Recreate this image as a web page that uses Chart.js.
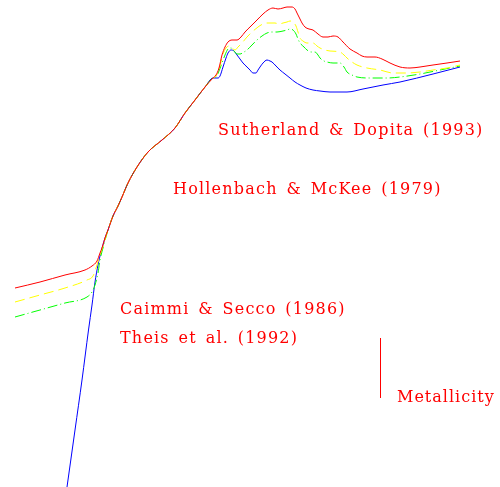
<!DOCTYPE html>
<html>
<head>
<meta charset="utf-8">
<script src="https://cdn.jsdelivr.net/npm/chart.js@4.4.1/dist/chart.umd.min.js"></script>
<style>
html,body{margin:0;padding:0;background:#fff;}
#wrap{width:500px;height:487px;}
</style>
</head>
<body>
<div id="wrap"><canvas id="c" width="500" height="487"></canvas></div>
<script>
// Shared part of all curves (log T, log Lambda in arbitrary offset units)
const commonT = [2.10,2.16,2.26,2.36,2.44,2.56,2.74,2.96,3.24,3.50,3.70,3.90,4.10,4.26];
const commonL = [4.98,5.14,5.42,5.62,5.80,6.08,6.40,6.70,6.94,7.18,7.48,7.74,8.00,8.18];

// Sutherland & Dopita (1993) - red
const redLowT = [0.30,0.80,1.30,1.70,1.84,1.94,2.00,2.04];
const redLowL = [3.98,4.10,4.24,4.34,4.42,4.52,4.68,4.78];
const redHighT = [4.32,4.38,4.44,4.50,4.56,4.64,4.74,4.82,4.90,5.02,5.14,5.26,5.36,5.46,5.56,5.66,5.74,5.84,5.90,5.94,6.00,6.04,6.10,6.18,6.26,6.36,6.46,6.56,6.66,6.76,6.86,7.00,7.14,7.24,7.34,7.50,7.64,7.80,8.00,8.20,8.40,8.66,8.94,9.20];
const redHighL = [8.24,8.38,8.64,8.80,8.90,8.94,8.94,9.00,9.10,9.22,9.34,9.46,9.54,9.58,9.56,9.58,9.60,9.60,9.56,9.48,9.36,9.28,9.20,9.16,9.14,9.06,9.00,9.00,9.02,9.00,8.90,8.76,8.68,8.62,8.60,8.60,8.56,8.48,8.40,8.38,8.40,8.44,8.48,8.52];

// Hollenbach & McKee (1979) - yellow
const yelLowT = [0.30,0.80,1.30,1.74,1.86,1.92,2.00,2.06];
const yelLowL = [3.70,3.84,3.98,4.14,4.22,4.38,4.64,4.82];
const yelHighT = [4.32,4.38,4.42,4.46,4.52,4.58,4.64,4.70,4.76,4.84,4.94,5.04,5.16,5.26,5.34,5.42,5.50,5.58,5.66,5.74,5.80,5.86,5.92,5.96,6.00,6.06,6.14,6.26,6.34,6.40,6.50,6.60,6.80,6.88,6.94,7.04,7.14,7.34,7.60,7.86,8.14,8.40,8.66,8.94,9.20];
const yelHighL = [8.22,8.36,8.50,8.66,8.78,8.82,8.78,8.74,8.80,8.88,9.00,9.10,9.20,9.26,9.28,9.28,9.28,9.26,9.28,9.30,9.32,9.30,9.22,9.10,8.98,8.92,8.88,8.88,8.82,8.78,8.74,8.72,8.70,8.64,8.58,8.50,8.44,8.38,8.34,8.28,8.28,8.30,8.34,8.38,8.44];

// Caimmi & Secco (1986) - green
const grnLowT = [0.30,0.80,1.30,1.74,1.84,1.90,1.96,2.00,2.06];
const grnLowL = [3.40,3.54,3.68,3.80,3.90,4.04,4.28,4.54,4.78];
const grnHighT = [4.32,4.38,4.44,4.50,4.56,4.62,4.68,4.74,4.80,4.88,4.94,5.04,5.14,5.24,5.34,5.44,5.54,5.66,5.74,5.80,5.86,5.92,5.96,6.00,6.08,6.14,6.22,6.30,6.36,6.40,6.48,6.54,6.66,6.80,6.88,6.94,7.04,7.14,7.40,7.74,8.00,8.40,8.80,9.20];
const grnHighL = [8.20,8.32,8.48,8.64,8.76,8.78,8.72,8.66,8.66,8.70,8.74,8.84,8.94,9.02,9.08,9.10,9.10,9.12,9.14,9.16,9.14,9.06,8.96,8.88,8.80,8.74,8.70,8.70,8.64,8.58,8.52,8.50,8.48,8.48,8.40,8.30,8.24,8.20,8.18,8.18,8.20,8.26,8.34,8.42];

// Theis et al. (1992) - blue
const bluLowT = [1.34,1.50,1.64,1.77,1.84,1.90,1.96,2.02];
const bluLowL = [0.00,1.14,2.14,3.14,3.64,4.10,4.44,4.70];
const bluHighT = [4.36,4.40,4.46,4.52,4.56,4.62,4.68,4.74,4.80,4.86,4.94,5.00,5.06,5.12,5.16,5.20,5.26,5.34,5.40,5.44,5.52,5.60,5.70,5.80,5.90,6.00,6.12,6.26,6.40,6.60,6.94,7.26,7.66,8.00,8.66,9.20];
const bluHighL = [8.18,8.22,8.40,8.58,8.68,8.74,8.72,8.64,8.56,8.48,8.40,8.34,8.28,8.28,8.34,8.40,8.48,8.54,8.52,8.50,8.42,8.34,8.26,8.18,8.10,8.04,7.98,7.94,7.92,7.90,7.90,7.96,8.04,8.10,8.26,8.40];

const labels = ["Sutherland & Dopita (1993)","Hollenbach & McKee (1979)","Caimmi & Secco (1986)","Theis et al. (1992)"];
const legendTitle = "Metallicity";

function pts(a,b){ return a.map((t,i)=>({x:t,y:b[i]})); }
function curve(lt,ll,ht,hl,skipFirstCommon){
  const ct = skipFirstCommon ? commonT.slice(1) : commonT;
  const cl = skipFirstCommon ? commonL.slice(1) : commonL;
  return pts(lt.concat(ct,ht), ll.concat(cl,hl));
}

const textPlugin = {
  id:'texts',
  afterDraw(chart){
    const ctx = chart.ctx;
    ctx.save();
    ctx.fillStyle = '#ff0000';
    ctx.font = '16px "DejaVu Serif"';
    ctx.letterSpacing = '1.2px';
    ctx.wordSpacing = '2.5px';
    ctx.textBaseline = 'alphabetic';
    ctx.fillText(labels[0], 218, 135);
    ctx.fillText(labels[1], 173, 194);
    ctx.fillText(labels[2], 120, 314);
    ctx.fillText(labels[3], 120, 343);
    ctx.letterSpacing = '1px';
    ctx.fillText(legendTitle, 397, 402);
    ctx.strokeStyle = '#ff0000';
    ctx.lineWidth = 1;
    ctx.beginPath();
    ctx.moveTo(380.5, 338);
    ctx.lineTo(380.5, 398);
    ctx.stroke();
    ctx.restore();
  }
};

new Chart(document.getElementById('c'), {
  type:'line',
  data:{
    datasets:[
      {label:labels[0], data:curve(redLowT,redLowL,redHighT,redHighL,false), borderColor:'#ff0000', borderWidth:1},
      {label:labels[1], data:curve(yelLowT,yelLowL,yelHighT,yelHighL,true), borderColor:'#ffff00', borderWidth:1, borderDash:[10,5]},
      {label:labels[2], data:curve(grnLowT,grnLowL,grnHighT,grnHighL,true), borderColor:'#00ff00', borderWidth:1, borderDash:[10,3,1,3]},
      {label:labels[3], data:curve(bluLowT,bluLowL,bluHighT,bluHighL,false), borderColor:'#0000ff', borderWidth:1}
    ]
  },
  options:{
    responsive:false,
    animation:false,
    layout:{padding:0},
    elements:{point:{radius:0}, line:{cubicInterpolationMode:'monotone', fill:false}},
    plugins:{legend:{display:false}, tooltip:{enabled:false}, title:{display:false}},
    scales:{
      x:{type:'linear', min:0, max:10, display:false},
      y:{type:'linear', min:0, max:9.74, display:false}
    }
  },
  plugins:[textPlugin]
});
</script>
</body>
</html>
